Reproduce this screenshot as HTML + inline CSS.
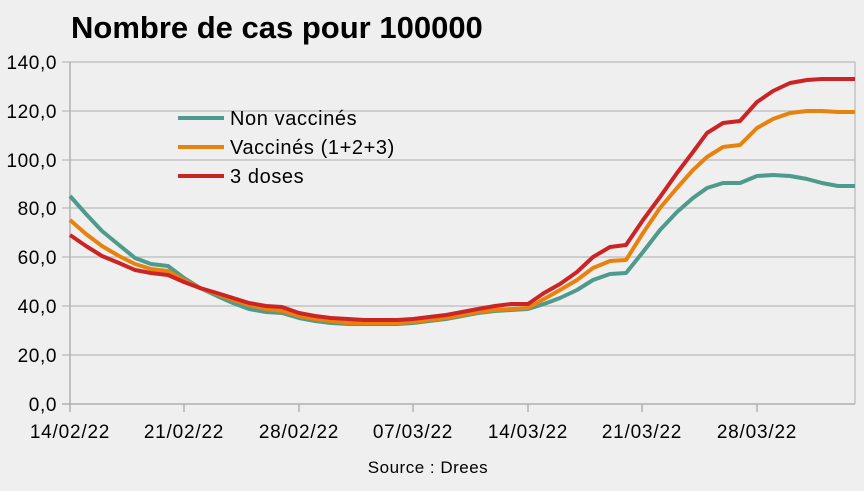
<!DOCTYPE html>
<html><head><meta charset="utf-8"><style>body{margin:0;background:#efefef}svg{display:block}text{font-family:"Liberation Sans",sans-serif;fill:#000}</style></head><body>
<svg width="864" height="491" viewBox="0 0 864 491">
<rect width="864" height="491" fill="#efefef"/>
<text x="71" y="38" font-size="31" font-weight="bold">Nombre de cas pour 100000</text>
<g stroke="#c4c4c4" stroke-width="1.5">
<line x1="62" y1="62" x2="855" y2="62"/><line x1="62" y1="111" x2="855" y2="111"/><line x1="62" y1="160" x2="855" y2="160"/><line x1="62" y1="208" x2="855" y2="208"/><line x1="62" y1="257" x2="855" y2="257"/><line x1="62" y1="306" x2="855" y2="306"/><line x1="62" y1="355" x2="855" y2="355"/>
<line x1="855" y1="62" x2="855" y2="404"/>
</g>
<g stroke="#b0b0b0" stroke-width="1.5">
<line x1="62" y1="404" x2="855" y2="404"/><line x1="70" y1="62" x2="70" y2="412"/>
<line x1="184" y1="404" x2="184" y2="412"/><line x1="299" y1="404" x2="299" y2="412"/><line x1="413" y1="404" x2="413" y2="412"/><line x1="528" y1="404" x2="528" y2="412"/><line x1="642" y1="404" x2="642" y2="412"/><line x1="757" y1="404" x2="757" y2="412"/>
</g>
<g font-size="19" text-anchor="end" letter-spacing="0.6">
<text x="57" y="69">140,0</text><text x="57" y="118">120,0</text><text x="57" y="167">100,0</text><text x="57" y="215">80,0</text><text x="57" y="264">60,0</text><text x="57" y="313">40,0</text><text x="57" y="362">20,0</text><text x="57" y="411">0,0</text>
</g>
<g font-size="19" text-anchor="middle" letter-spacing="0.8">
<text x="70" y="438">14/02/22</text><text x="184" y="438">21/02/22</text><text x="299" y="438">28/02/22</text><text x="413" y="438">07/03/22</text><text x="528" y="438">14/03/22</text><text x="642" y="438">21/03/22</text><text x="757" y="438">28/03/22</text>
</g>
<text x="428" y="473" font-size="17" text-anchor="middle" letter-spacing="0.5">Source : Drees</text>
<g fill="none" stroke-width="4" stroke-linejoin="round">
<polyline stroke="#4e9a8c" points="70,196 86,214 102,231 119,245 135,258 151,264 168,266 184,278 200,288 217,296 233,303 249,309 266,312 282,313 299,318 315,321 331,323 348,324 364,324 380,324 397,324 413,323 429,321 446,319 462,316 478,313 495,311 511,310 528,309 544,304 560,298 577,290 593,280 610,274 626,273 643,252 660,230 677,212 693,198 707,188 723,183 740,183 757,176 773,175 790,176 807,179 822,183 838,186 855,186"/>
<polyline stroke="#e8820e" points="70,220 86,234 102,246 119,256 135,264 151,269 168,271 184,280 200,288 217,294 233,300 249,305 266,309 282,311 299,316 315,319 331,321 348,323 364,323 380,323 397,323 413,322 429,320 446,318 462,315 478,312 495,310 511,309 528,308 544,299 560,290 577,280 593,268 610,261 626,260 643,233 660,208 677,188 693,170 707,157 723,147 740,145 757,128 773,119 790,113 807,111 822,111 838,112 855,112"/>
<polyline stroke="#cc2424" points="70,235 86,246 102,256 119,263 135,270 151,273 168,275 184,282 200,288 217,293 233,298 249,303 266,306 282,307 299,313 315,316 331,318 348,319 364,320 380,320 397,320 413,319 429,317 446,315 462,312 478,309 495,306 511,304 528,304 544,293 560,284 577,272 593,257 610,247 626,245 643,220 660,197 677,173 693,152 707,133 723,123 740,121 757,102 773,91 790,83 807,80 822,79 838,79 855,79"/>
</g>
<g stroke-width="4">
<line x1="178" y1="118" x2="224" y2="118" stroke="#4e9a8c"/>
<line x1="178" y1="147" x2="224" y2="147" stroke="#e8820e"/>
<line x1="178" y1="176" x2="224" y2="176" stroke="#cc2424"/>
</g>
<g font-size="20" letter-spacing="0.6"><text x="230" y="125">Non vaccinés</text><text x="230" y="154">Vaccinés (1+2+3)</text><text x="230" y="183">3 doses</text></g>
</svg>
</body></html>
